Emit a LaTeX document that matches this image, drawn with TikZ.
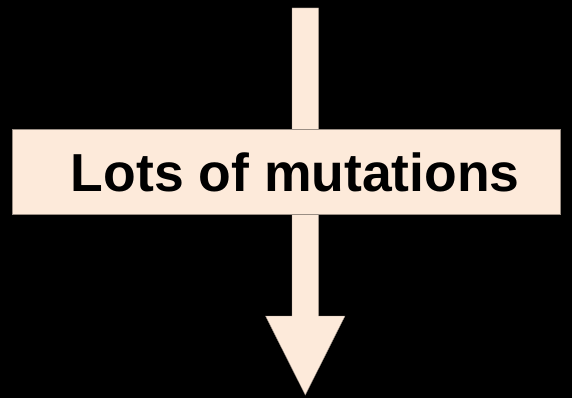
\documentclass[tikz,border=0pt]{standalone}
\usepackage{fontspec}
\setmainfont{Liberation Sans}
\definecolor{peach}{HTML}{FDEADA}
\definecolor{peachedge}{HTML}{9A8E84}
\begin{document}
\begin{tikzpicture}[x=1pt,y=-1pt,
  shape fill/.style={fill=peach,draw=peachedge,line width=0.4pt},
  band box/.style={shape fill,rectangle,inner sep=0pt,minimum width=548pt,minimum height=85pt},
  band text/.style={inner sep=0pt,anchor=base,font=\bfseries\fontsize{53.5}{60}\selectfont,text=black}]
  \fill[black] (0,0) rectangle (572,398);
  \useasboundingbox (0,0) rectangle (572,398);
  % downward block arrow
  \draw[shape fill] (292,8) -- (318.5,8) -- (318.5,316) -- (345,316) -- (305.3,395)
    -- (265.5,316) -- (292,316) -- cycle;
  % label band across the shaft
  \node[band box] (band) at (286,171.5) {};
  \node[band text] (label) at (295.3,191.7) {Lots of mutations};
\end{tikzpicture}
\end{document}
